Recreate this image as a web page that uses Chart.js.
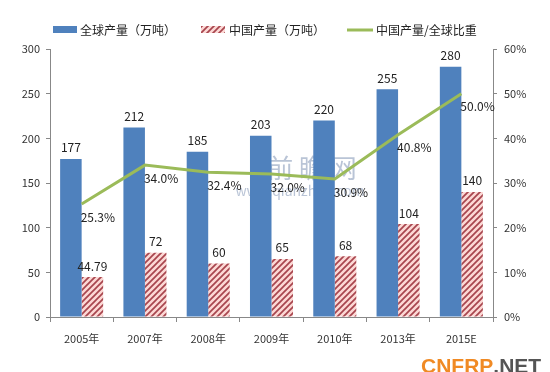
<!DOCTYPE html>
<html>
<head>
<meta charset="utf-8">
<script src="https://cdn.jsdelivr.net/npm/chart.js@4"></script>
<style>
  body { margin: 0; background: #fff; }
  #wrap { width: 550px; height: 372px; position: relative; }
</style>
</head>
<body>
<div id="wrap"><canvas id="myChart"></canvas></div>
<script>
const years = ['2005年', '2007年', '2008年', '2009年', '2010年', '2013年', '2015E'];
const globalOutput = [177, 212, 185, 203, 220, 255, 280];
const chinaOutput = [44.79, 72, 60, 65, 68, 104, 140];
const chinaShare = [25.3, 34.0, 32.4, 32.0, 30.9, 40.8, 50.0];

const FONT = '"Noto Sans CJK SC", "Liberation Sans", sans-serif';
Chart.defaults.font.family = FONT;
Chart.defaults.color = '#333';

// pink hatch for China bars
function makeHatch() {
  const c = document.createElement('canvas');
  c.width = 6; c.height = 6;
  const g = c.getContext('2d');
  g.fillStyle = '#fcd8d5';
  g.fillRect(0, 0, 6, 6);
  g.strokeStyle = '#a8454e';
  g.lineWidth = 1.7;
  g.beginPath();
  g.moveTo(-1, 7); g.lineTo(7, -1);
  g.moveTo(-4, 4); g.lineTo(4, -4);
  g.moveTo(2, 10); g.lineTo(10, 2);
  g.stroke();
  return g.createPattern(c, 'repeat');
}
const hatch = makeHatch();

const labelsPlugin = {
  id: 'labels',
  afterDatasetsDraw(chart) {
    const ctx = chart.ctx;
    ctx.save();
    ctx.font = '12px ' + FONT;
    ctx.fillStyle = '#222';
    ctx.textBaseline = 'middle';
    chart.data.datasets.forEach((ds, i) => {
      const meta = chart.getDatasetMeta(i);
      meta.data.forEach((el, j) => {
        if (ds.type === 'line') {
          ctx.textAlign = 'left';
          ctx.fillText(ds.data[j].toFixed(1) + '%', el.x - 1, el.y + 13);
        } else {
          ctx.textAlign = 'center';
          ctx.fillText(String(ds.data[j]), el.x, el.y - 11);
        }
      });
    });
    ctx.restore();
  }
};

const decorPlugin = {
  id: 'decor',
  beforeDatasetsDraw(chart) {
    const ctx = chart.ctx;
    ctx.save();
    ctx.fillStyle = 'rgba(100,125,165,0.45)';
    ctx.font = '26px ' + FONT;
    ctx.textAlign = 'center';
    ctx.textBaseline = 'middle';
    ctx.fillText('前 瞻 网', 312, 168);
    ctx.font = '14px ' + FONT;
    ctx.fillText('www.qianzhan.com', 300, 191);
    ctx.restore();
  },
  afterDraw(chart) {
    const ctx = chart.ctx;
    ctx.save();
    // legend
    ctx.font = '12px ' + FONT;
    ctx.textBaseline = 'middle';
    ctx.textAlign = 'left';
    ctx.fillStyle = '#4f81bd';
    ctx.fillRect(53, 26, 24, 7);
    ctx.fillStyle = '#222';
    ctx.fillText('全球产量（万吨）', 80, 30);
    ctx.fillStyle = hatch;
    ctx.fillRect(201, 26, 24, 7);
    ctx.fillStyle = '#222';
    ctx.fillText('中国产量（万吨）', 229, 30);
    ctx.strokeStyle = '#9bbb59';
    ctx.lineWidth = 3;
    ctx.beginPath();
    ctx.moveTo(347, 30); ctx.lineTo(373, 30);
    ctx.stroke();
    ctx.fillText('中国产量/全球比重', 376, 30);
    // site mark
    ctx.font = 'bold 21px "Liberation Sans Narrow", "Liberation Sans", sans-serif';
    ctx.textBaseline = 'alphabetic';
    ctx.lineWidth = 3;
    ctx.strokeStyle = '#fff';
    ctx.strokeText('CNFRP', 421, 373);
    ctx.fillStyle = '#f08a24';
    ctx.fillText('CNFRP', 421, 373);
    const w = ctx.measureText('CNFRP').width;
    ctx.strokeText('.NET', 421 + w, 373);
    ctx.fillStyle = '#555';
    ctx.fillText('.NET', 421 + w, 373);
    ctx.restore();
  }
};

new Chart(document.getElementById('myChart'), {
  type: 'bar',
  data: {
    labels: years,
    datasets: [
      {
        type: 'line',
        label: '中国产量/全球比重',
        data: chinaShare,
        yAxisID: 'y1',
        borderColor: '#9bbb59',
        backgroundColor: '#9bbb59',
        borderWidth: 3,
        pointRadius: 0,
        tension: 0,
        order: 0
      },
      {
        label: '全球产量（万吨）',
        data: globalOutput,
        backgroundColor: '#4f81bd',
        yAxisID: 'y',
        categoryPercentage: 0.68,
        barPercentage: 1,
        order: 1
      },
      {
        label: '中国产量（万吨）',
        data: chinaOutput,
        backgroundColor: hatch,
        yAxisID: 'y',
        categoryPercentage: 0.68,
        barPercentage: 1,
        order: 1
      }
    ]
  },
  options: {
    responsive: true,
    maintainAspectRatio: false,
    animation: false,
    devicePixelRatio: 1,
    layout: { padding: { top: 49, left: 0, right: 0, bottom: 0 } },
    plugins: {
      legend: { display: false },
      tooltip: { enabled: false }
    },
    scales: {
      x: {
        afterFit(s) { s.height = 55; },
        grid: { drawOnChartArea: false, tickLength: 5, color: '#888' },
        border: { color: '#888' },
        ticks: { font: { size: 11 }, color: '#333', padding: 10 }
      },
      y: {
        position: 'left',
        min: 0, max: 300,
        afterFit(s) { s.width = 50; },
        grid: { drawOnChartArea: false, tickLength: 4, color: '#888' },
        border: { color: '#888' },
        ticks: { stepSize: 50, font: { size: 11 }, color: '#333', padding: 6 }
      },
      y1: {
        position: 'right',
        min: 0, max: 60,
        afterFit(s) { s.width = 57; },
        grid: { drawOnChartArea: false, tickLength: 4, color: '#888' },
        border: { color: '#888' },
        ticks: { stepSize: 10, font: { size: 11 }, color: '#333', padding: 7,
          callback: v => v + '%' }
      }
    }
  },
  plugins: [decorPlugin, labelsPlugin]
});
</script>
</body>
</html>
